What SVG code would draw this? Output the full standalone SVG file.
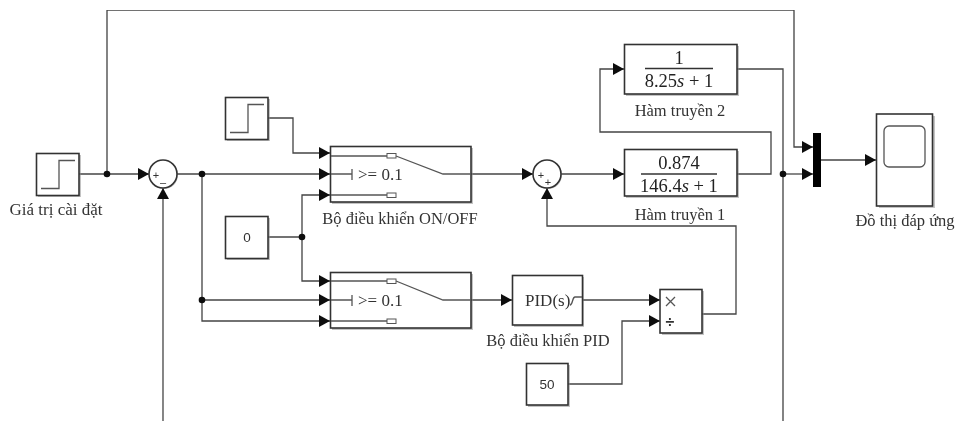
<svg xmlns="http://www.w3.org/2000/svg" width="957" height="421" viewBox="0 0 957 421">
<style>
.b{fill:#fff;stroke:#333;stroke-width:1.6}
.s{fill:#888;opacity:.5}
.w{fill:none;stroke:#444;stroke-width:1.3}
.t{fill:none;stroke:#555;stroke-width:1.3}
.l{font-family:"Liberation Serif",serif;font-size:16.5px;fill:#333;text-anchor:middle}
.m{font-family:"Liberation Serif",serif;font-size:18.5px;fill:#222;text-anchor:middle}
.c{font-family:"Liberation Serif",serif;font-size:17px;fill:#333}
.n{font-family:"Liberation Sans",sans-serif;font-size:13.5px;fill:#333;text-anchor:middle}
.p{font-family:"Liberation Sans",sans-serif;font-size:11px;fill:#333;text-anchor:middle}
.d{fill:#111}
</style>
<defs>
<marker id="a" markerUnits="userSpaceOnUse" markerWidth="11" markerHeight="12" refX="11" refY="6" orient="auto"><path d="M0 0L11 6L0 12Z" fill="#111"/></marker>
<filter id="soft" x="0" y="0" width="100%" height="100%"><feGaussianBlur stdDeviation="0.35"/></filter>
</defs>
<g filter="url(#soft)">
<g id="connectors" class="w">
<path d="M79 174H149" marker-end="url(#a)"/>
<path d="M107 174V10H794V147H813" marker-end="url(#a)"/>
<path d="M177 174H330" marker-end="url(#a)"/>
<path d="M202 174V321H330" marker-end="url(#a)"/>
<path d="M202 300H330" marker-end="url(#a)"/>
<path d="M268 118H293V153H330" marker-end="url(#a)"/>
<path d="M268 237H302"/>
<path d="M302 237V195H330" marker-end="url(#a)"/>
<path d="M302 237V281H330" marker-end="url(#a)"/>
<path d="M471 174H533" marker-end="url(#a)"/>
<path d="M561 174H624" marker-end="url(#a)"/>
<path d="M471 300H512" marker-end="url(#a)"/>
<path d="M582 300H660" marker-end="url(#a)"/>
<path d="M568 384H622V321H660" marker-end="url(#a)"/>
<path d="M702 314H736V226H547V188" marker-end="url(#a)"/>
<path d="M737 174H771V132H600V69H624" marker-end="url(#a)"/>
<path d="M737 69H783V421"/>
<path d="M783 174H813" marker-end="url(#a)"/>
<path d="M821 160H876" marker-end="url(#a)"/>
<path d="M163 421V188" marker-end="url(#a)"/>
<circle class="d" cx="107" cy="174" r="3.3" stroke="none"/>
<circle class="d" cx="202" cy="174" r="3.3" stroke="none"/>
<circle class="d" cx="202" cy="300" r="3.3" stroke="none"/>
<circle class="d" cx="302" cy="237" r="3.3" stroke="none"/>
<circle class="d" cx="783" cy="174" r="3.3" stroke="none"/>
</g>
<g id="step1">
<rect class="s" x="38" y="155" width="43" height="42"/><rect class="b" x="36.500" y="153.500" width="42.500" height="42"/>
<path class="t" d="M41 188.500H59V160.500H75"/>
<text class="l" x="56" y="215" style="font-size:17px">Giá trị cài đặt</text>
</g>
<g id="sum1">
<circle class="s" cx="164" cy="175" r="14"/><circle class="b" cx="163" cy="174" r="14"/>
<text class="p" x="156" y="179">+</text><text class="p" x="163" y="186">–</text>
</g>
<g id="step2">
<rect class="s" x="227" y="99" width="43" height="42"/><rect class="b" x="225.500" y="97.500" width="42.500" height="42"/>
<path class="t" d="M230 132.500H248V104.500H264"/>
</g>
<g id="const0">
<rect class="s" x="227" y="218" width="43" height="42"/><rect class="b" x="225.500" y="216.500" width="42.500" height="42"/>
<text class="n" x="247" y="242">0</text>
</g>
<g id="switch1">
<rect class="s" x="332" y="148" width="141" height="56"/><rect class="b" x="330.500" y="146.500" width="140.500" height="55.500"/>
<path class="t" d="M331 156H387M396 156L443 174H471M331 174H352M352 169V180M331 195H387"/>
<rect x="387" y="153.500" width="9" height="4.500" fill="#fff" stroke="#555"/>
<rect x="387" y="193" width="9" height="4.500" fill="#fff" stroke="#555"/>
<text class="c" x="358" y="180">&gt;= 0.1</text>
<text class="l" x="400" y="224">Bộ điều khiển ON/OFF</text>
</g>
<g id="switch2">
<rect class="s" x="332" y="274" width="141" height="56"/><rect class="b" x="330.500" y="272.500" width="140.500" height="55.500"/>
<path class="t" d="M331 281H387M396 281L443 300H471M331 300H352M352 295V306M331 321H387"/>
<rect x="387" y="279" width="9" height="4.500" fill="#fff" stroke="#555"/>
<rect x="387" y="319" width="9" height="4.500" fill="#fff" stroke="#555"/>
<text class="c" x="358" y="306">&gt;= 0.1</text>
</g>
<g id="sum2">
<circle class="s" cx="548" cy="175" r="14"/><circle class="b" cx="547" cy="174" r="14"/>
<text class="p" x="541" y="179">+</text><text class="p" x="548" y="186">+</text>
</g>
<g id="tf2">
<rect class="s" x="626" y="46" width="113" height="50"/><rect class="b" x="624.500" y="44.500" width="112.500" height="49.500"/>
<path d="M645 68.500H713" stroke="#333" stroke-width="1.3"/>
<text class="m" x="679" y="64">1</text>
<text class="m" x="679" y="87">8.25<tspan font-style="italic">s</tspan> + 1</text>
<text class="l" x="680" y="116">Hàm truyền 2</text>
</g>
<g id="tf1">
<rect class="s" x="626" y="151" width="113" height="47"/><rect class="b" x="624.500" y="149.500" width="112.500" height="46.500"/>
<path d="M641 174H717" stroke="#333" stroke-width="1.3"/>
<text class="m" x="679" y="169">0.874</text>
<text class="m" x="679" y="192">146.4<tspan font-style="italic">s</tspan> + 1</text>
<text class="l" x="680" y="220">Hàm truyền 1</text>
</g>
<g id="mux"><rect x="813" y="133" width="8" height="54" fill="#000"/></g>
<g id="scope">
<rect class="s" x="879" y="116" width="56" height="92"/><rect class="b" x="876.500" y="114" width="56" height="92"/>
<rect x="884" y="126" width="41" height="41" rx="5" fill="#fff" stroke="#555" stroke-width="1.3"/>
<text class="l" x="905" y="226">Đồ thị đáp ứng</text>
</g>
<g id="pid">
<rect class="s" x="514" y="277" width="70" height="50"/><rect class="b" x="512.500" y="275.500" width="70" height="49.500"/>
<text class="c" x="525" y="306">PID(s)</text>
<path class="t" d="M570 305C573 305 572 297 575 297H582"/>
<text class="l" x="548" y="346">Bộ điều khiển PID</text>
</g>
<g id="product">
<rect class="s" x="662" y="291" width="42" height="44"/><rect class="b" x="660" y="289.500" width="42" height="43.500"/>
<path d="M666 297L675 306M675 297L666 306" stroke="#555" stroke-width="1.3"/>
<text class="p" x="670" y="327" style="font-size:16px;font-weight:bold">÷</text>
</g>
<g id="const50">
<rect class="s" x="528" y="365" width="42" height="42"/><rect class="b" x="526.500" y="363.500" width="41.500" height="41.500"/>
<text class="n" x="547" y="389">50</text>
</g>
</g>
</svg>
